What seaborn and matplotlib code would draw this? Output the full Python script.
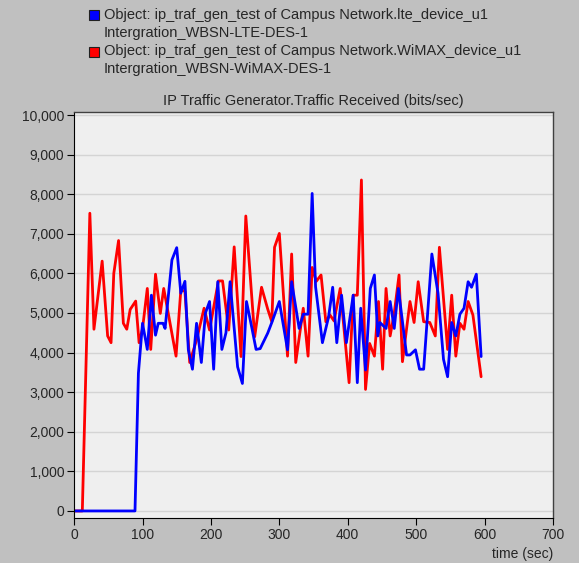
import matplotlib
matplotlib.use("Agg")
import numpy as np
import pandas as pd
import matplotlib.pyplot as plt
import seaborn as sns
from matplotlib.patches import Rectangle
from matplotlib.ticker import StrMethodFormatter

# values (time in sec, traffic in bits/sec)
lte_time = [0, 89, 94, 100, 107, 113, 119, 123, 130, 133, 143, 150, 156, 162,
            167, 173, 179, 186, 192, 198, 204, 210, 216, 222, 228, 239, 246,
            252, 260, 266, 272, 283, 289, 300, 312, 318, 329, 335, 342, 348,
            353, 363, 372, 378, 384, 391, 398, 408, 414, 419, 426, 433, 439,
            444, 447, 456, 462, 468, 474, 486, 491, 499, 505, 511, 523, 532,
            540, 546, 552, 558, 564, 570, 576, 581, 588, 595]
lte_traffic = [0, 0, 3480, 4740, 4080, 5450, 4440, 4740, 4740, 4610, 6340,
               6650, 5500, 5800, 4070, 3580, 4740, 3750, 5000, 5290, 3580, 5790,
               4080, 4500, 5790, 3640, 3220, 5290, 4610, 4080, 4100, 4490, 4760,
               5290, 4070, 5790, 4610, 4970, 4970, 8020, 5660, 4250, 4900, 5650,
               4250, 5450, 4250, 5450, 3240, 5120, 3560, 5620, 5960, 4420, 4760,
               4610, 5290, 4610, 5620, 3940, 3940, 4070, 3580, 3580, 6490, 5500,
               3830, 3390, 4760, 4420, 4970, 5120, 5790, 5650, 5980, 3900]

wimax_time = [0, 12, 23, 29, 41, 49, 54, 58, 65, 72, 77, 82, 90, 95, 100, 107,
              112, 119, 126, 131, 149, 156, 162, 169, 179, 190, 198, 211, 217,
              226, 234, 244, 251, 264, 274, 283, 289, 293, 300, 312, 318, 324,
              335, 342, 348, 354, 361, 368, 374, 380, 389, 402, 408, 414, 420,
              426, 432, 439, 445, 451, 456, 462, 468, 475, 480, 491, 497, 503,
              511, 520, 528, 534, 546, 552, 558, 564, 570, 576, 583, 595]
wimax_traffic = [0, 0, 7520, 4590, 6310, 4420, 4250, 6000, 6830, 4740, 4590,
                 5090, 5300, 4250, 4600, 5620, 4080, 5980, 4990, 5620, 3910,
                 5580, 5550, 3750, 4320, 5120, 4570, 5810, 5810, 4570, 6670,
                 3900, 7450, 4400, 5650, 5100, 4780, 6660, 7010, 3910, 6490,
                 3750, 5120, 3910, 6150, 5800, 5960, 4780, 4950, 4800, 5620,
                 3240, 5450, 5450, 8360, 3070, 4230, 3910, 5290, 3580, 5620,
                 4420, 5000, 5960, 3770, 5290, 4760, 5790, 4780, 4760, 4420,
                 6660, 4080, 5450, 3910, 4740, 4590, 5290, 4950, 3390]

series_labels = [
    "Object: ip_traf_gen_test of Campus Network.lte_device_u1\nIntergration_WBSN-LTE-DES-1",
    "Object: ip_traf_gen_test of Campus Network.WiMAX_device_u1\nIntergration_WBSN-WiMAX-DES-1",
]
series_colors = ["#0000FF", "#FF0000"]
x_ticks = list(range(0, 701, 100))
y_ticks = list(range(0, 10001, 1000))

lte = pd.DataFrame({"time": lte_time, "traffic": lte_traffic})
wimax = pd.DataFrame({"time": wimax_time, "traffic": wimax_traffic})

sns.set_style("white")
plt.rcParams["font.family"] = ["Liberation Sans", "DejaVu Sans"]
plt.rcParams["font.size"] = 10

W, H = 579, 563
fig = plt.figure(figsize=(W / 100, H / 100), dpi=100, facecolor="#C0C0C0")
ax = fig.add_axes([0.128, 0.080, 0.827, 0.721])
ax.set_facecolor("#EFEFEF")

# red drawn first, blue on top
sns.lineplot(data=wimax, x="time", y="traffic", color=series_colors[1],
             linewidth=2, ax=ax, legend=False)
sns.lineplot(data=lte, x="time", y="traffic", color=series_colors[0],
             linewidth=2, ax=ax, legend=False)

ax.set_xlim(0, 700)
ax.set_ylim(-177, 10076)
ax.set_xticks(x_ticks)
ax.set_yticks(y_ticks)
ax.yaxis.set_major_formatter(StrMethodFormatter("{x:,.0f}"))
ax.grid(axis="y", color="#D4D4D4", linewidth=1)
ax.set_axisbelow(True)
ax.tick_params(axis="both", direction="out", length=5, width=0.8,
               color="black", labelsize=10, pad=2, left=True, bottom=True)
for side in ["left", "bottom"]:
    ax.spines[side].set_color("black")
    ax.spines[side].set_linewidth(0.8)
for side in ["top", "right"]:
    ax.spines[side].set_color("#404040")
    ax.spines[side].set_linewidth(1)

ax.set_xlabel("time (sec)", loc="right", labelpad=4)
ax.set_ylabel("")
ax.set_title("IP Traffic Generator.Traffic Received (bits/sec)", fontsize=10.5, pad=5)

# legend block above the title: coloured square + two text lines per series
for i, (label, color) in enumerate(zip(series_labels, series_colors)):
    y0 = 15 + 36.5 * i
    fig.add_artist(Rectangle((89 / W, 1 - (y0 + 5) / H), 10 / W, 10 / H,
                             transform=fig.transFigure, facecolor=color,
                             edgecolor="#202020", linewidth=0.8))
    for j, line in enumerate(label.split("\n")):
        fig.text(104 / W, 1 - (y0 + 18 * j) / H, line, fontsize=10.5,
                 va="center", ha="left")

fig.savefig("out.png", dpi=100, facecolor=fig.get_facecolor())
